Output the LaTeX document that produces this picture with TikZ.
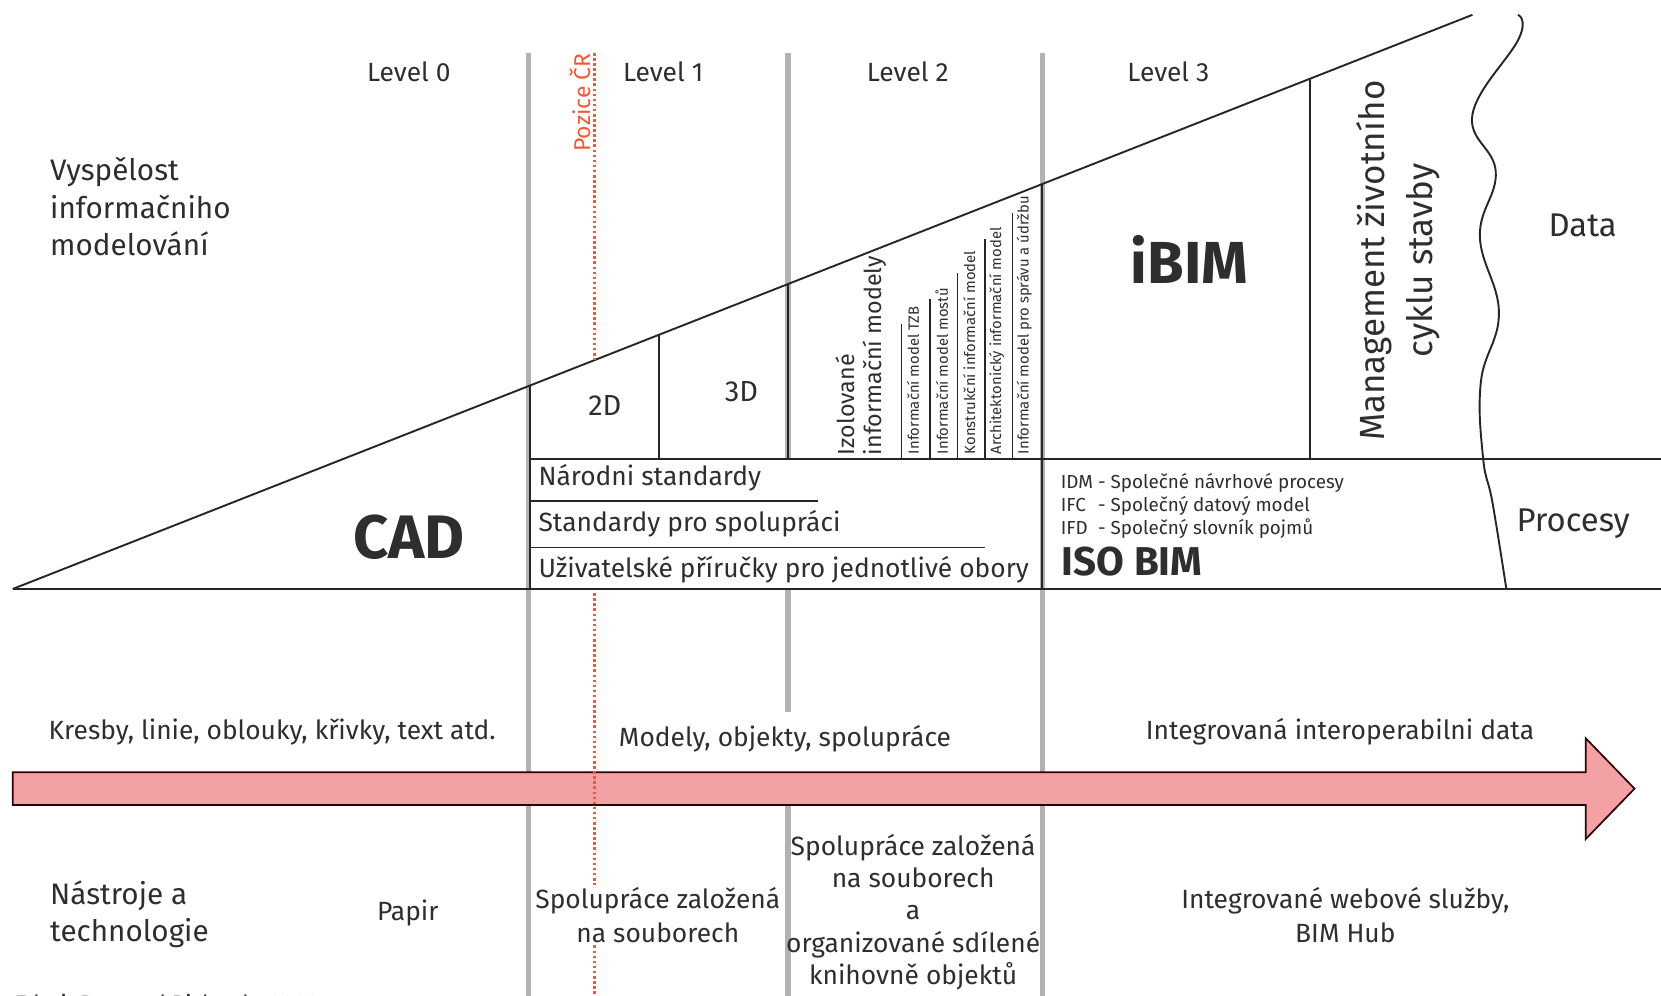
\documentclass[tikz,border=0pt]{standalone}
\usepackage{fontspec}
\setmainfont{Fira Sans}
\usetikzlibrary{positioning,calc}
\definecolor{pozcol}{HTML}{EE5A36}
\definecolor{arrowpink}{HTML}{F4A1A6}
\definecolor{txtgray}{HTML}{2E2E2E}

\begin{document}
\begin{tikzpicture}[x=0.5pt, y=-0.5pt,
        every node/.style={text=txtgray, inner sep=1pt, font=\fontsize{12.45}{16}\selectfont},
        big/.style={font=\fontsize{14}{17.5}\selectfont, align=left, anchor=west},
        small/.style={font=\fontsize{7}{8}\selectfont, rotate=90, anchor=west},
        idm/.style={font=\fontsize{8.9}{11}\selectfont, anchor=north west},
        bar/.style={line width=2.6pt, draw=black!30},
        frame/.style={line width=0.9pt, draw=black!85},
        pozice/.style={draw=pozcol, line width=1.4pt, dash pattern=on 1.2pt off 1.2pt},
        lower/.style={align=center}
    ]
        \useasboundingbox (0,0) rectangle (1568,940);

        % sede svisle pruhy mezi urovnemi
        \foreach \x in {499,984} \draw[bar] (\x,50) -- (\x,940);
        \draw[bar] (744,50) -- (744,433);
        \draw[bar] (744,556) -- (744,672);
        \draw[bar] (744,745) -- (744,940);

        % trojuhelnik vyspelosti
        \coordinate (apex) at (12,556);
        \coordinate (tip) at (1390,14);
        \coordinate (baseR) at (1568,556);
        \coordinate (stdL) at (500,433);
        \coordinate (stdR) at (1568,433);
        \draw[frame] (apex) -- (tip);
        \draw[frame] (apex) -- (baseR);
        \draw[frame] (stdL) -- (stdR);
        \draw[frame] (500,364) -- (500,556);
        \draw[frame] (622,316) -- (622,433);
        \draw[frame] (744,268) -- (744,433);
        \draw[frame] (984,174) -- (984,556);
        \draw[frame] (1237,74) -- (1237,433);
        \draw[frame, line width=0.7pt] (500,473) -- (772,473);
        \draw[frame, line width=0.7pt] (500,517) -- (930,517);

        % vlnovka
        \draw[frame] plot[smooth, tension=0.7] coordinates {(1433,14) (1434,36) (1390,108) (1412,162) (1397,223) (1415,295) (1398,360) (1400,432) (1409,475) (1422,556)};

        % sipka
        \draw[fill=arrowpink, draw=black!55!red!40!black, line width=0.8pt]
            (12,729) -- (1497,729) -- (1497,697) -- (1543,744.5) -- (1497,792) -- (1497,760) -- (12,760) -- cycle;

        % urovne
        \node (lvl0) at (386,68) {Level 0};
        \node (lvl1) at (626,68) {Level 1};
        \node (lvl2) at (857,68) {Level 2};
        \node (lvl3) at (1103,68) {Level 3};

        \node[big] (vysp) at (45,195) {Vyspělost\\informačniho\\modelování};
        \node[big] (nastr) at (45,863) {Nástroje a\\technologie};

        % horni cast
        \node[font=\bfseries\fontsize{29}{30}\selectfont] (cad) at (386,507) {CAD};
        \node[font=\fontsize{13.7}{15}\selectfont] (d2) at (571,383) {2D};
        \node[font=\fontsize{13.7}{15}\selectfont] (d3) at (700,370) {3D};
        \node[rotate=90, anchor=west, align=left, font=\fontsize{11}{13}\selectfont] (izol) at (813,432) {Izolované\\informační modely};
        \foreach \x/\top/\txt in {851/306/Informační model TZB, 878/282/Informační model mostů,
                904/258/Konstrukční informační model, 930/226/Architektonický informační model,
                956/201/Informační model pro správu a údržbu} {
            \draw[frame, line width=0.7pt] (\x,\top) -- (\x,433);
            \node[small] (m\x) at (\x+11,431) {\txt};
        }
        \node[font=\bfseries\fontsize{28}{30}\selectfont] (ibim) at (1123,245) {iBIM};
        \node[rotate=90, align=center, font=\fontsize{16.5}{22.5}\selectfont] (mgmt) at (1320,246) {Management životního\\cyklu stavby};
        \node[font=\fontsize{15.5}{17}\selectfont] (data) at (1494,213) {Data};
        \node[font=\fontsize{15.5}{17}\selectfont] (proc) at (1485,494) {Procesy};

        % standardy
        \node[anchor=west] (nar) at (506,451) {Národni standardy};
        \node[anchor=west] (spol) at (506,494) {Standardy pro spolupráci};
        \node[anchor=west] (uziv) at (506,538) {Uživatelské příručky pro jednotlivé obory};
        \node[idm] (idmtab) at (999,443) {\begin{tabular}{@{}l@{\ }l@{}}IDM & - Společné návrhové procesy\\IFC & - Společný datový model\\IFD & - Společný slovník pojmů\end{tabular}};
        \node[anchor=west, font=\bfseries\fontsize{19}{20}\selectfont] (iso) at (1000,530) {ISO BIM};

        % spodni cast
        \node (kresby) at (257,691) {Kresby, linie, oblouky, křivky, text atd.};
        \node (modely) at (741,697) {Modely, objekty, spolupráce};
        \node (integr) at (1265,691) {Integrovaná interoperabilni data};
        \node (papir) at (385,862) {Papir};
        \node[lower] (soub1) at (621,864) {Spolupráce založená\\na souborech};
        \node[lower, font=\fontsize{12.45}{15.2}\selectfont] (soub2) at (862,861) {Spolupráce založená\\na souborech\\a\\organizované sdílené\\knihovně objektů};
        \node[lower] (web) at (1270,864) {Integrované webové služby,\\BIM Hub};
        \node[anchor=north west, font=\fontsize{10.5}{12}\selectfont] (zdroj) at (12,936) {Zdroj: Bew and Richards, 2008};

        % pozice CR
        \coordinate (pozx) at (561,0);
        \draw[pozice] (561,50) -- (561,340);
        \draw[pozice] (561,560) -- (pozx |- soub1.north);
        \draw[pozice] (pozx |- soub1.south) -- (561,940);
        \node[rotate=90, text=pozcol, font=\fontsize{10.8}{12}\selectfont] (pozice) at (548,97) {Pozice ČR};
    \end{tikzpicture}
\end{document}
